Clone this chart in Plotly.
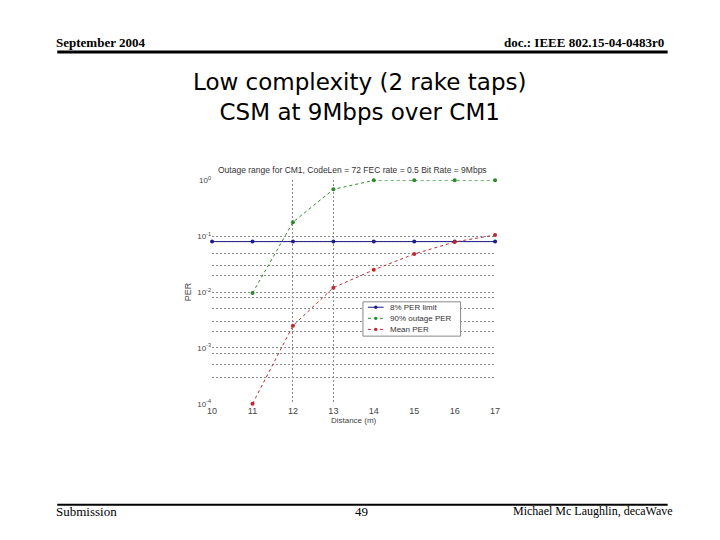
import plotly.graph_objects as go

distance = [10, 11, 12, 13, 14, 15, 16, 17]
per_limit = [0.08, 0.08, 0.08, 0.08, 0.08, 0.08, 0.08, 0.08]
outage_x = [11, 12, 13, 14, 15, 16, 17]
outage_per = [0.0096, 0.178, 0.69, 1.0, 1.0, 1.0, 1.0]
mean_x = [11, 12, 13, 14, 15, 16, 17]
mean_per = [0.0001, 0.0025, 0.012, 0.025, 0.048, 0.079, 0.105]
series_names = ["8% PER limit", "90% outage PER", "Mean PER"]

y_major = [1, 0.1, 0.01, 0.001, 0.0001]
y_major_text = ["10<sup>0</sup>", "10<sup>-1</sup>", "10<sup>-2</sup>", "10<sup>-3</sup>", "10<sup>-4</sup>"]
y_minor = [0.08, 0.05, 0.03, 0.02, 0.008, 0.005, 0.003, 0.002, 0.0008, 0.0005, 0.0003]
x_grid = [12, 13]

blue = "#1c1c8a"
green = "#2b8a2b"
red = "#c0282e"
colors = [blue, green, red]
dashes = ["solid", "dot", "dot"]

fig = go.Figure()
fig.add_trace(go.Scatter(x=distance, y=per_limit, mode="lines+markers", name=series_names[0],
                         line=dict(color=blue, width=1), marker=dict(size=4, color=blue),
                         cliponaxis=False))
fig.add_trace(go.Scatter(x=outage_x, y=outage_per, mode="lines+markers", name=series_names[1],
                         line=dict(color=green, width=1, dash="dot"), marker=dict(size=4, color=green),
                         cliponaxis=False))
fig.add_trace(go.Scatter(x=mean_x, y=mean_per, mode="lines+markers", name=series_names[2],
                         line=dict(color=red, width=1, dash="dot"), marker=dict(size=4, color=red),
                         cliponaxis=False))

grid_col = "#8a8a8a"
gdash = "2px,2px"
fig.update_layout(
    width=720, height=540, margin=dict(l=0, r=0, t=0, b=0),
    paper_bgcolor="white", plot_bgcolor="white",
    font=dict(family="Liberation Sans, Arial", color="#333"),
    showlegend=False,
    xaxis=dict(domain=[210/720, 497/720], range=[10, 17], tickvals=distance,
               showgrid=False, zeroline=False, showline=False, ticks="",
               tickfont=dict(size=9, color="#444"),
               title=dict(text="Distance (m)", font=dict(size=8, color="#444"), standoff=2),
               minor=dict(tickvals=x_grid, showgrid=True, gridcolor=grid_col, griddash=gdash, gridwidth=1, ticks="")),
    yaxis=dict(domain=[1-406/540, 1-178/540], type="log", range=[-4, 0],
               tickvals=y_major, ticktext=y_major_text,
               showgrid=True, gridcolor=grid_col, griddash=gdash, gridwidth=1,
               zeroline=False, showline=False, ticks="",
               tickfont=dict(size=8, color="#444"),
               title=dict(text="PER", font=dict(size=9, color="#444"), standoff=4),
               minor=dict(tickvals=y_minor, showgrid=True, gridcolor=grid_col, griddash=gdash, gridwidth=1, ticks="")),
)

W, H = 720.0, 540.0
def px(x):
    return x / W
def py(y):
    return 1 - y / H

# custom compact legend (box + line/marker samples + labels)
fig.add_shape(type="rect", xref="paper", yref="paper", x0=px(363), x1=px(462), y0=py(302), y1=py(337),
              line=dict(color="#888", width=1), fillcolor="white", layer="above")
for i, (nm, c, d) in enumerate(zip(series_names, colors, dashes)):
    yy = 307.5 + i * 11.3
    fig.add_shape(type="line", xref="paper", yref="paper", x0=px(368), x1=px(384), y0=py(yy), y1=py(yy),
                  line=dict(color=c, width=1, dash=d), layer="above")
    fig.add_shape(type="circle", xref="paper", yref="paper", x0=px(374.3), x1=px(377.7), y0=py(yy - 1.7), y1=py(yy + 1.7),
                  line=dict(color=c, width=0), fillcolor=c, layer="above")
    fig.add_annotation(text=nm, x=px(388), y=py(yy), xref="paper", yref="paper", xanchor="left", yanchor="middle",
                       showarrow=False, font=dict(size=8, color="#333", family="Liberation Sans, Arial"))

# slide header/footer rules
fig.add_shape(type="line", xref="paper", yref="paper", x0=px(53), x1=px(672), y0=py(47), y1=py(47),
              line=dict(color="black", width=3))
fig.add_shape(type="line", xref="paper", yref="paper", x0=px(53), x1=px(672), y0=py(509), y1=py(509),
              line=dict(color="black", width=2))

serif = "Liberation Serif, Times New Roman"
sans = "DejaVu Sans, Liberation Sans"
ann = [
    dict(text="<b>September 2004</b>", x=50, y=37, xanchor="left", size=13, fam=serif, col="black"),
    dict(text="<b>doc.: IEEE 802.15-04-0483r0</b>", x=670, y=37, xanchor="right", size=13, fam=serif, col="black"),
    dict(text="Submission", x=50, y=516, xanchor="left", size=13, fam=serif, col="black"),
    dict(text="49", x=362, y=516, xanchor="center", size=13, fam=serif, col="black"),
    dict(text="Michael Mc Laughlin, decaWave", x=679, y=516, xanchor="right", size=12, fam=serif, col="black"),
    dict(text="Low complexity (2 rake taps)<br>CSM at 9Mbps over CM1", x=360, y=93, xanchor="center",
         size=23, fam=sans, col="black"),
    dict(text="Outage range for CM1, CodeLen = 72 FEC rate = 0.5 Bit Rate = 9Mbps", x=352, y=167,
         xanchor="center", size=8.5, fam="Liberation Sans, Arial", col="#333"),
]
for a in ann:
    fig.add_annotation(text=a["text"], x=px(a["x"]), y=py(a["y"]), xref="paper", yref="paper",
                       xanchor=a["xanchor"], yanchor="middle", showarrow=False,
                       font=dict(size=a["size"], family=a["fam"], color=a["col"]))

fig.write_html("out.html")
